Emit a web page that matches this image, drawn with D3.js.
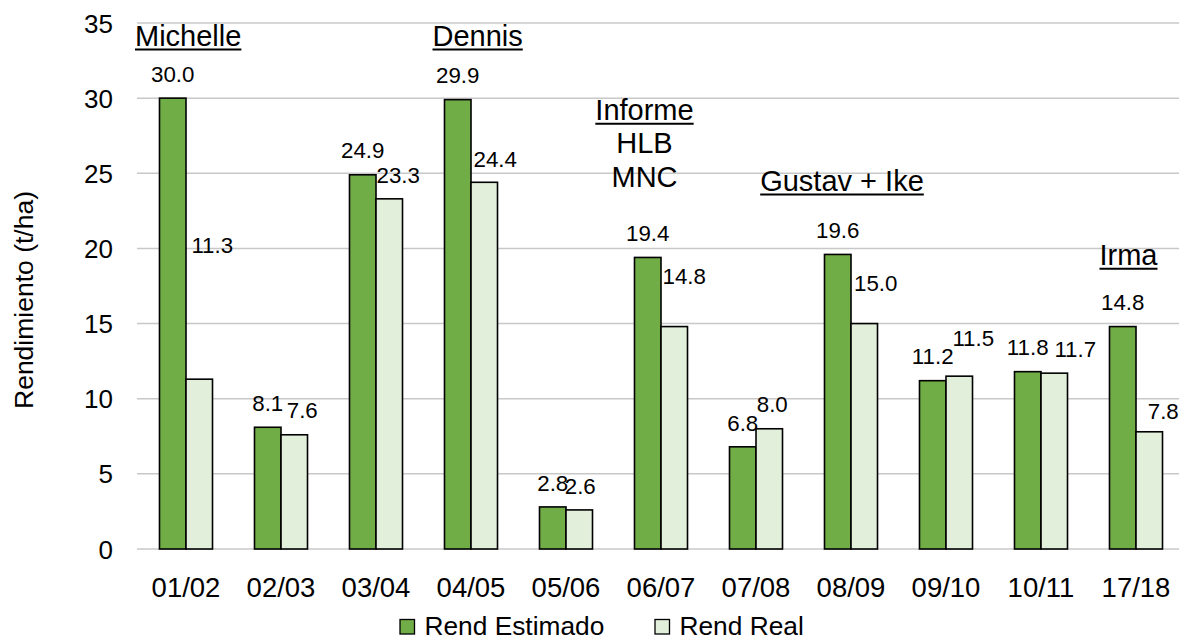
<!DOCTYPE html>
<html>
<head>
<meta charset="utf-8">
<script src="https://cdn.jsdelivr.net/npm/d3@7"></script>
<style>
  html, body { margin: 0; padding: 0; background: #ffffff; }
  svg { display: block; font-family: "Liberation Sans", Arial, sans-serif; }
</style>
</head>
<body>
<svg id="chart" width="1179" height="641"></svg>
<script>
// Zafras and yields (t/ha)
const seasons = ["01/02", "02/03", "03/04", "04/05", "05/06", "06/07", "07/08", "08/09", "09/10", "10/11", "17/18"];
const rendEstimado = [30.0, 8.1, 24.9, 29.9, 2.8, 19.4, 6.8, 19.6, 11.2, 11.8, 14.8];
const rendReal = [11.3, 7.6, 23.3, 24.4, 2.6, 14.8, 8.0, 15.0, 11.5, 11.7, 7.8];
const yTicks = [0, 5, 10, 15, 20, 25, 30, 35];
const seriesNames = ["Rend Estimado", "Rend Real"];

// Event notes: text lines and the season they sit over
const eventSeason = ["01/02", "04/05", "06/07", "08/09", "17/18"];
const eventLines = [["Michelle"], ["Dennis"], ["Informe", "HLB", "MNC"], ["Gustav + Ike"], ["Irma"]];

// Hand-placed label nudges (px) for the "Rend Real" value labels
const realLabelDx = [13, 8, 9, 11, 1, 10, 3, 11.5, 14, 21, 14];
const realLabelDy = [-110, 0, 0, 1, 0, -26, 0, -16.5, -14, 0, 4];

const colors = ["#70AD47", "#E2EFDA"];
const svg = d3.select("#chart");

const x = d3.scaleBand().domain(seasons).range([138.5, 1183.5]).paddingInner(0.442).paddingOuter(0.221);
const xs = d3.scaleBand().domain([0, 1]).range([0, x.bandwidth()]);
const y = d3.scaleLinear().domain([0, 35]).range([549, 23]);

// gridlines
svg.append("g").selectAll("line").data(yTicks).join("line")
  .attr("x1", 137).attr("x2", 1179)
  .attr("y1", d => y(d)).attr("y2", d => y(d))
  .attr("stroke", "#c8c8c8").attr("stroke-width", 1.5);

// y tick labels
const yAxis = d3.axisLeft(y).tickValues(yTicks).tickSize(0).tickPadding(0).tickFormat(d3.format("d"));
const yg = svg.append("g").attr("transform", "translate(113,0)").call(yAxis);
yg.select(".domain").remove();
yg.selectAll("text").attr("font-size", 26).attr("fill", "#000").attr("dy", "0.35em")
  .attr("font-family", "Liberation Sans, Arial, sans-serif");

// x category labels
const xAxis = d3.axisBottom(x).tickSize(0).tickPadding(0);
const xg = svg.append("g").attr("transform", "translate(0,577)").call(xAxis);
xg.select(".domain").remove();
xg.selectAll("text").attr("font-size", 27.5).attr("fill", "#000").attr("dy", "0.73em")
  .attr("font-family", "Liberation Sans, Arial, sans-serif");

// y title
svg.append("text")
  .attr("transform", "translate(33,300) rotate(-90)")
  .attr("text-anchor", "middle")
  .attr("font-size", 26.5)
  .text("Rendimiento (t/ha)");

// bars
const series = [rendEstimado, rendReal];
series.forEach((vals, si) => {
  svg.append("g").selectAll("rect").data(vals).join("rect")
    .attr("x", (d, i) => x(seasons[i]) + xs(si))
    .attr("width", xs.bandwidth())
    .attr("y", d => y(d))
    .attr("height", d => y(0) - y(d))
    .attr("fill", colors[si])
    .attr("stroke", "#000").attr("stroke-width", 1.6);
});

// value labels
const fmt = d3.format(".1f");
series.forEach((vals, si) => {
  svg.append("g").selectAll("text").data(vals).join("text")
    .attr("x", (d, i) => x(seasons[i]) + xs(si) + xs.bandwidth() / 2 + (si === 1 ? realLabelDx[i] : 0))
    .attr("y", (d, i) => y(d) - 16.3 + (si === 1 ? realLabelDy[i] : 0))
    .attr("text-anchor", "middle")
    .attr("font-size", 22.3)
    .text(d => fmt(d));
});

// event notes (first line underlined)
const notePos = {
  "01/02": { dx: -51, top: 45.7, anchor: "start" },
  "04/05": { dx: -38.5, top: 45.7, anchor: "start" },
  "06/07": { dx: -16.5, top: 120, anchor: "middle" },
  "08/09": { dx: -9, top: 190.7, anchor: "middle" },
  "17/18": { dx: -7.5, top: 265, anchor: "middle" }
};
eventLines.forEach((lines, k) => {
  const s = eventSeason[k];
  const p = notePos[s];
  const cx = x(s) + x.bandwidth() / 2 + p.dx;
  lines.forEach((line, j) => {
    const t = svg.append("text")
      .attr("x", cx).attr("y", p.top + j * 33.3)
      .attr("text-anchor", p.anchor)
      .attr("font-size", 29)
      .text(line);
    if (j === 0) {
      const w = t.node().getComputedTextLength();
      const x0 = p.anchor === "middle" ? cx - w / 2 : cx;
      svg.append("line")
        .attr("x1", x0).attr("x2", x0 + w)
        .attr("y1", p.top + 3.8).attr("y2", p.top + 3.8)
        .attr("stroke", "#000").attr("stroke-width", 2);
    }
  });
});

// legend
const legendX = [400, 655];
seriesNames.forEach((name, i) => {
  svg.append("rect")
    .attr("x", legendX[i]).attr("y", 619.5)
    .attr("width", 14.5).attr("height", 14.5)
    .attr("fill", colors[i]).attr("stroke", "#000").attr("stroke-width", 1.3);
  svg.append("text")
    .attr("x", legendX[i] + 24.5).attr("y", 634.8)
    .attr("font-size", 26.3)
    .text(name);
});
</script>
</body>
</html>
